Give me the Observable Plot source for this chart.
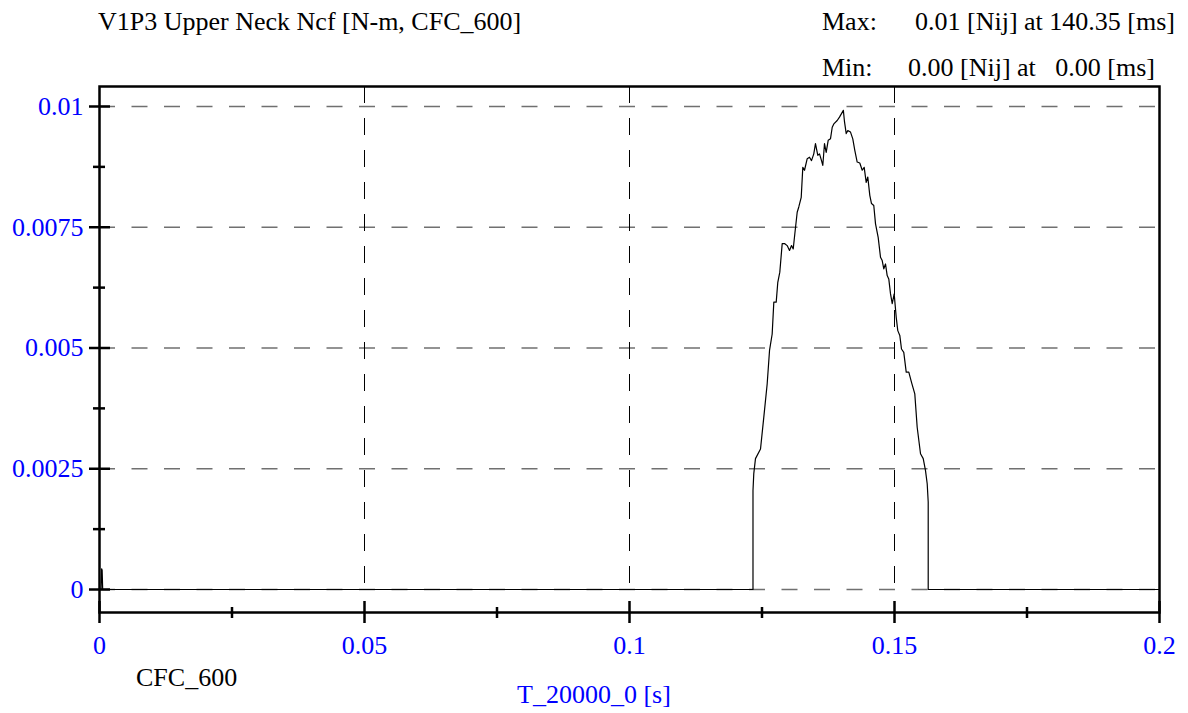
<!DOCTYPE html>
<html>
<head>
<meta charset="utf-8">
<script src="https://cdn.jsdelivr.net/npm/d3@7"></script>
<script src="https://cdn.jsdelivr.net/npm/@observablehq/plot@0.6"></script>
<style>
  html, body { margin: 0; padding: 0; background: #ffffff; }
  #chart { width: 1188px; height: 713px; }
</style>
</head>
<body>
<div id="chart"></div>
<script>
// Upper neck Ncf criterion trace, time in seconds, value in Nij
const time = [
  0, 0.0003, 0.0004, 0.0005, 0.0006,
  0.1233, 0.1233, 0.12345, 0.12377, 0.12472, 0.12534, 0.12598, 0.12642, 0.12692, 0.12723,
  0.12768, 0.12798, 0.12836, 0.12881, 0.12930, 0.12975, 0.13019, 0.13057, 0.13089, 0.13119,
  0.13164, 0.13194, 0.13240, 0.13270, 0.13302, 0.13353, 0.13396, 0.13434, 0.13477, 0.13509,
  0.13553, 0.13585, 0.13623, 0.13647, 0.13679, 0.13711, 0.13749, 0.13792, 0.13825, 0.13855,
  0.13919, 0.13962, 0.14035, 0.14057, 0.14089, 0.14119, 0.14170, 0.14213, 0.14251, 0.14296,
  0.14345, 0.14391, 0.14428, 0.14466, 0.14496, 0.14534, 0.14566, 0.14609, 0.14642, 0.14692,
  0.14736, 0.14768, 0.14798, 0.14830, 0.14862, 0.14892, 0.14925, 0.14957, 0.14994, 0.15032,
  0.15062, 0.15100, 0.15132, 0.15175, 0.15221, 0.15270, 0.15321, 0.15383, 0.15428, 0.15491,
  0.15542, 0.15585, 0.15617, 0.15636, 0.15636, 0.2
];
const nij = [
  0, 0, 0.00043, 0.00040, 0,
  0, 0.00205, 0.00240, 0.00271, 0.00291, 0.00357, 0.00426, 0.00495, 0.00529, 0.00595,
  0.00595, 0.00636, 0.00657, 0.00716, 0.00716, 0.00712, 0.00702, 0.00712, 0.00705, 0.00736,
  0.00781, 0.00792, 0.00812, 0.00874, 0.00868, 0.00892, 0.00895, 0.00888, 0.00902, 0.00923,
  0.00899, 0.00902, 0.00888, 0.00878, 0.00923, 0.00905, 0.00930, 0.00933, 0.00957, 0.00964,
  0.00971, 0.00978, 0.00992, 0.00968, 0.00944, 0.00950, 0.00947, 0.00933, 0.00909, 0.00885,
  0.00883, 0.00868, 0.00874, 0.00843, 0.00854, 0.00816, 0.00799, 0.00795, 0.00757, 0.00729,
  0.00688, 0.00681, 0.00664, 0.00674, 0.00650, 0.00643, 0.00612, 0.00592, 0.00612, 0.00564,
  0.00536, 0.00526, 0.00498, 0.00491, 0.00450, 0.00450, 0.00429, 0.00405, 0.00336, 0.00281,
  0.00271, 0.00246, 0.00219, 0.00181, 0, 0
];

// Axis ticks
const xTicks = [0, 0.05, 0.1, 0.15, 0.2];
const xMinorTicks = [0.025, 0.075, 0.125, 0.175];
const yTicks = [0, 0.0025, 0.005, 0.0075, 0.01];
const yMinorTicks = [0.00125, 0.00375, 0.00625, 0.00875];
const xGridTicks = [0.05, 0.1, 0.15];

const xDomain = [0, 0.2];
const yDomain = [-0.000476, 0.010414];

// Text
const titleText = "V1P3 Upper Neck Ncf [N-m, CFC_600]";
const filterText = "CFC_600";
const xLabelText = "T_20000_0 [s]";
const unitText = "[Nij]";

const rows = time.map((t, i) => ({t, v: nij[i]}));

const font = "'Liberation Serif', 'Times New Roman', Times, serif";
const blue = "#0000ff";

const plot = Plot.plot({
  width: 1188,
  height: 713,
  marginLeft: 99,
  marginRight: 29,
  marginTop: 86,
  marginBottom: 101,
  style: {fontFamily: font, fontSize: "26px", background: "#ffffff", color: "black", overflow: "visible"},
  x: {domain: xDomain},
  y: {domain: yDomain},
  marks: [
    // dashed grid
    Plot.ruleY(yTicks, {y: d => d, stroke: "#707070", strokeWidth: 1.3, strokeDasharray: "16,16.5"}),
    Plot.ruleX(xGridTicks, {x: d => d, y1: yDomain[1], y2: 0, stroke: "black", strokeWidth: 1, strokeDasharray: "17,15"}),
    // signal
    Plot.line(rows, {x: "t", y: "v", stroke: "black", strokeWidth: 1.2}),
    Plot.frame({stroke: "black", strokeWidth: 2.5}),
    // ticks crossing the frame
    Plot.axisY({ticks: yTicks, tickSize: 21, insetLeft: 11, strokeWidth: 2.5, fill: "none", label: null}),
    Plot.axisY({ticks: yMinorTicks, tickSize: 12, insetLeft: 6, strokeWidth: 2.5, fill: "none", label: null}),
    Plot.axisX({ticks: xTicks, tickSize: 22, insetBottom: 11, strokeWidth: 2.5, fill: "none", label: null}),
    Plot.axisX({ticks: xMinorTicks, tickSize: 11, insetBottom: 5, strokeWidth: 2.5, fill: "none", label: null}),
    // tick labels
    Plot.axisY({ticks: yTicks, tickSize: 0, tickPadding: 16, tickFormat: d => String(d), fill: blue, label: null}),
    Plot.axisX({ticks: xTicks, tickSize: 0, tickPadding: 33, lineAnchor: "middle", tickFormat: d => String(d), fill: blue, label: null})
  ]
});

document.getElementById("chart").appendChild(plot);

// Peak and minimum read from the series
let iMax = 0, iMin = 0;
nij.forEach((v, i) => { if (v > nij[iMax]) iMax = i; if (v < nij[iMin]) iMin = i; });
const fmtVal = v => v.toFixed(2);
const fmtMs = t => (t * 1000).toFixed(2).padStart(6, " ");

const svg = d3.select(plot);
function addText(x, y, str, fill = "black") {
  svg.append("text")
    .attr("x", x).attr("y", y)
    .attr("fill", fill)
    .attr("text-anchor", "start")
    .attr("font-family", font)
    .attr("font-size", 26)
    .style("white-space", "pre")
    .text(str);
}

addText(98, 30, titleText);
addText(822, 30, "Max:");
addText(915, 30, `${fmtVal(nij[iMax])} ${unitText} at ${fmtMs(time[iMax])} [ms]`);
addText(822, 76, "Min:");
addText(908, 76, `${fmtVal(nij[iMin])} ${unitText} at ${fmtMs(time[iMin])} [ms]`);
addText(136, 686, filterText);
addText(517, 703, xLabelText, blue);
</script>
</body>
</html>
